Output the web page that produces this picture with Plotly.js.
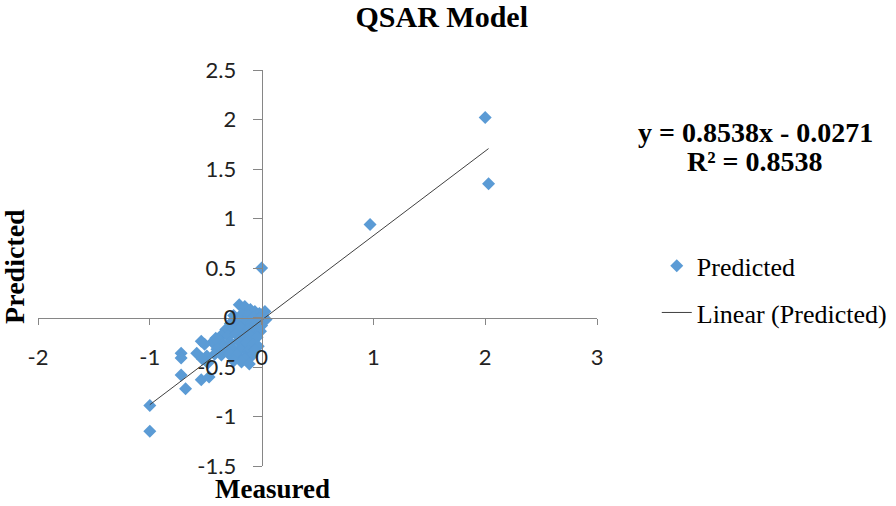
<!DOCTYPE html>
<html>
<head>
<meta charset="utf-8">
<script src="https://cdn.plot.ly/plotly-3.0.1.min.js"></script>
<style>
  body { margin: 0; background: #fff; }
  #chart { width: 896px; height: 506px; }
</style>
</head>
<body>
<div id="chart"></div>
<script>
// measured vs predicted values
var measured = [
  2.00, 2.03, 0.97, 0.00, -1.00, -1.00,
  -0.20, -0.15, -0.10, -0.06, -0.02, 0.01, 0.03,
  -0.25, -0.18, -0.12, -0.07, -0.02, 0.02, 0.04,
  -0.28, -0.22, -0.15, -0.09, -0.04, 0.00,
  -0.32, -0.26, -0.19, -0.12, -0.06, -0.01,
  -0.36, -0.30, -0.23, -0.16, -0.10, -0.04,
  -0.35, -0.28, -0.21, -0.14, -0.08, -0.03,
  -0.44, -0.39, -0.51, -0.40, -0.33, -0.26, -0.19, -0.12, -0.06,
  -0.42, -0.36, -0.29, -0.22, -0.15, -0.09, -0.15,
  -0.25, -0.18, -0.11, -0.49, -0.54, -0.41,
  -0.58, -0.72, -0.72, -0.53, -0.48, -0.72, -0.68, -0.54, -0.47
];
var predicted = [
  2.02, 1.35, 0.94, 0.50, -0.89, -1.15,
  0.13, 0.11, 0.08, 0.06, 0.04, 0.02, 0.06,
  0.02, 0.03, 0.02, 0.00, -0.01, -0.03, -0.02,
  -0.06, -0.05, -0.04, -0.06, -0.05, -0.08,
  -0.12, -0.12, -0.10, -0.12, -0.12, -0.14,
  -0.18, -0.19, -0.17, -0.18, -0.19, -0.20,
  -0.26, -0.25, -0.24, -0.26, -0.27, -0.29,
  -0.25, -0.22, -0.27, -0.32, -0.31, -0.31, -0.32, -0.34, -0.33,
  -0.37, -0.38, -0.37, -0.38, -0.40, -0.39, -0.42,
  -0.44, -0.45, -0.47, -0.39, -0.24, -0.21,
  -0.36, -0.36, -0.41, -0.42, -0.46, -0.58, -0.72, -0.63, -0.60
];

// trendline as reported on the chart
var slope = 0.8538;
var intercept = -0.0271;
var rSquared = 0.8538;

var xTicks = [-2, -1, 0, 1, 2, 3];
var xTickText = ["-2", "-1", "0", "1", "2", "3"];
var yTicks = [-1.5, -1, -0.5, 0, 0.5, 1, 1.5, 2, 2.5];
var yTickText = ["-1.5", "-1", "-0.5", "0", "0.5", "1", "1.5", "2", "2.5"];

var xMin = Math.min.apply(null, measured);
var xMax = Math.max.apply(null, measured);
var fitX = [xMin, xMax];
var fitY = fitX.map(function (v) { return slope * v + intercept; });

var serif = "Liberation Serif, Times New Roman, serif";
var tickFont = { family: "Lato, Calibri, sans-serif", size: 22, color: "#222" };

var data = [
  {
    x: measured,
    y: predicted,
    type: "scatter",
    mode: "markers",
    name: "Predicted",
    legendgroup: "a",
    marker: { symbol: "diamond", size: 10, color: "#5b9bd5" },
  },
  {
    x: fitX,
    y: fitY,
    type: "scatter",
    mode: "lines",
    name: "Linear (Predicted)",
    legendgroup: "b",
    line: { color: "#404040", width: 1 },
  },
];

var layout = {
  width: 896,
  height: 506,
  margin: { l: 38, r: 299, t: 70, b: 40, autoexpand: false },
  paper_bgcolor: "#fff",
  plot_bgcolor: "#fff",
  title: {
    text: "<b>QSAR Model</b>",
    font: { family: serif, size: 30, color: "#000" },
    x: 0.493,
    xanchor: "center",
    y: 0.968,
    yanchor: "middle",
  },
  xaxis: {
    range: [-2, 3],
    tickvals: xTicks,
    ticktext: xTickText,
    ticks: "outside",
    ticklen: 6,
    tickcolor: "#868686",
    showline: true,
    linecolor: "#868686",
    showgrid: false,
    zeroline: false,
    anchor: "free",
    position: 0.375,
    ticklabelstandoff: 14,
    tickfont: tickFont,
  },
  yaxis: {
    range: [-1.5, 2.5],
    tickvals: yTicks,
    ticktext: yTickText,
    ticks: "outside",
    ticklen: 9,
    tickcolor: "#868686",
    showline: true,
    linecolor: "#868686",
    showgrid: false,
    zeroline: false,
    anchor: "free",
    position: 0.4,
    ticklabelstandoff: 12,
    tickfont: tickFont,
  },
  legend: {
    xref: "container",
    x: 0.733,
    xanchor: "left",
    y: 0.565,
    yanchor: "top",
    font: { family: serif, size: 26, color: "#000" },
    tracegroupgap: 10,
    bgcolor: "rgba(0,0,0,0)",
  },
  annotations: [
    {
      text: "<b>Measured</b>",
      xref: "paper", yref: "paper",
      x: 0.42, y: -0.058,
      xanchor: "center", yanchor: "middle",
      showarrow: false,
      font: { family: serif, size: 27, color: "#000" },
    },
    {
      text: "<b>Predicted</b>",
      xref: "paper", yref: "paper",
      x: -0.041, y: 0.503,
      xanchor: "center", yanchor: "middle",
      textangle: -90,
      showarrow: false,
      font: { family: serif, size: 28, color: "#000" },
    },
    {
      text: "<b>y = " + slope.toFixed(4) + "x - " + Math.abs(intercept).toFixed(4) + "</b>",
      xref: "paper", yref: "paper",
      x: 1.283, y: 0.843,
      xanchor: "center", yanchor: "middle",
      showarrow: false,
      font: { family: serif, size: 28, color: "#000" },
    },
    {
      text: "<b>R² = " + rSquared.toFixed(4) + "</b>",
      xref: "paper", yref: "paper",
      x: 1.283, y: 0.768,
      xanchor: "center", yanchor: "middle",
      showarrow: false,
      font: { family: serif, size: 28, color: "#000" },
    },
  ],
  showlegend: true,
};

Plotly.newPlot("chart", data, layout, { displayModeBar: false, staticPlot: true });
</script>
</body>
</html>
